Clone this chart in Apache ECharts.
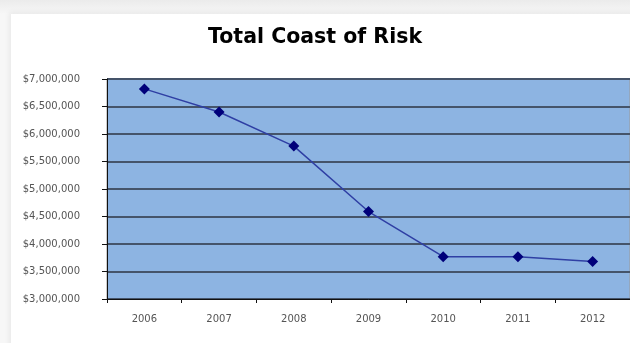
<!DOCTYPE html>
<html>
<head>
<meta charset="utf-8">
<script src="https://cdn.jsdelivr.net/npm/echarts@6/dist/echarts.min.js"></script>
<style>
  html, body { margin: 0; padding: 0; width: 630px; height: 343px; overflow: hidden;
    background: linear-gradient(to bottom, #ebebeb 0px, #f7f7f7 14px, #f7f7f7 100%); }
  #card { position: absolute; left: 11px; top: 14px; width: 640px; height: 340px; background: #fff;
    box-shadow: -2px -2px 5px rgba(0,0,0,0.06); }
  #chart { position: absolute; left: 0; top: 0; width: 630px; height: 343px; }
</style>
</head>
<body>
<div id="card"></div>
<div id="chart"></div>
<script>
// Annual total cost of risk, 2006-2012
const years = ['2006', '2007', '2008', '2009', '2010', '2011', '2012'];
const totalCost = [6820000, 6400000, 5780000, 4590000, 3770000, 3770000, 3680000];
const yMin = 3000000;
const yMax = 7000000;
const yStep = 500000;

const chart = echarts.init(document.getElementById('chart'), null, { renderer: 'canvas' });

function money(v) {
  return '$' + String(v).replace(/\B(?=(\d{3})+(?!\d))/g, ',');
}

chart.setOption({
  animation: false,
  backgroundColor: 'transparent',
  title: {
    text: 'Total Coast of Risk',
    left: 'center',
    top: 22,
    textStyle: {
      fontFamily: 'DejaVu Sans, sans-serif',
      fontWeight: 'bold',
      fontSize: 20.5,
      color: '#000'
    }
  },
  grid: {
    left: 107,
    top: 79,
    right: -9,
    bottom: 44,
    show: true,
    backgroundColor: '#8db4e2',
    borderColor: '#9a9a9a',
    borderWidth: 1
  },
  xAxis: {
    type: 'category',
    data: years,
    boundaryGap: true,
    axisLine: { show: true, lineStyle: { color: '#111', width: 1 } },
    axisTick: { show: true, length: 4, lineStyle: { color: '#111' } },
    axisLabel: {
      margin: 15,
      fontFamily: 'DejaVu Sans, sans-serif',
      fontSize: 10,
      color: '#555'
    },
    splitLine: { show: false }
  },
  yAxis: {
    type: 'value',
    min: yMin,
    max: yMax,
    interval: yStep,
    axisLine: { show: true, lineStyle: { color: '#111', width: 1 } },
    axisTick: { show: true, length: 5, lineStyle: { color: '#111' } },
    axisLabel: {
      margin: 27,
      fontFamily: 'DejaVu Sans, sans-serif',
      fontSize: 10,
      color: '#555',
      formatter: money
    },
    splitLine: { show: true, lineStyle: { color: '#45546a', width: 2 } }
  },
  series: [{
    type: 'line',
    data: totalCost,
    symbol: 'diamond',
    symbolSize: 11,
    lineStyle: { color: '#2f3fa4', width: 1.5 },
    itemStyle: { color: '#00007a' }
  }]
});
</script>
</body>
</html>
